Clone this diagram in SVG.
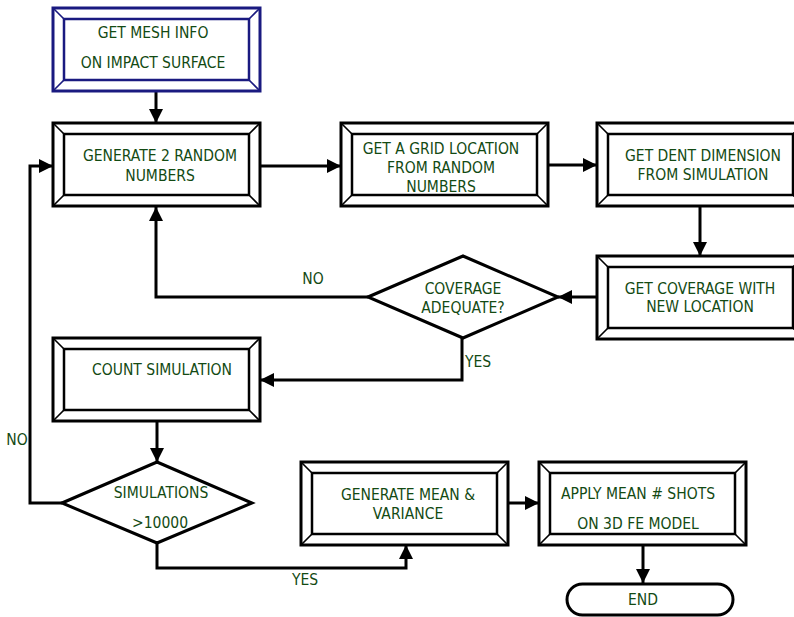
<svg xmlns="http://www.w3.org/2000/svg" xmlns:xlink="http://www.w3.org/1999/xlink" width="794" height="617" viewBox="0 0 794 617">
<style>
.o{fill:#fff;stroke:currentColor;stroke-width:3}
.i{fill:#fff;stroke:currentColor;stroke-width:2.5}
.b{fill:none;stroke:currentColor;stroke-width:1.6}
.t{font-family:"DejaVu Sans Condensed","DejaVu Sans",sans-serif;font-size:15.5px;fill:#134a13;text-anchor:middle;dominant-baseline:central}
.ts{text-anchor:start}
.c{fill:none;stroke:#000;stroke-width:3}
.d{fill:#fff;stroke:#000;stroke-width:3}
</style>
<defs>
<marker id="ah" markerUnits="userSpaceOnUse" markerWidth="16" markerHeight="16" viewBox="0 0 16 16" refX="15" refY="8" orient="auto">
<path d="M1,1 L15,8 L1,15 Z" fill="#000"/>
</marker>
<g id="bev">
<rect class="o" x="0" y="0" width="207" height="83"/>
<rect class="i" x="11" y="11" width="185" height="61"/>
<path class="b" d="M0,0 L11,11 M207,0 L196,11 M0,83 L11,72 M207,83 L196,72"/>
</g>
</defs>
<rect width="794" height="617" fill="#fff"/>
<g id="connectors">
<path class="c" d="M156,91 V123" marker-end="url(#ah)"/>
<path class="c" d="M260,166 H341" marker-end="url(#ah)"/>
<path class="c" d="M548,165 H597" marker-end="url(#ah)"/>
<path class="c" d="M700,207 V256" marker-end="url(#ah)"/>
<path class="c" d="M597,297 H558" marker-end="url(#ah)"/>
<path class="c" d="M368,297 H156 V207" marker-end="url(#ah)"/>
<path class="c" d="M462,338 V380 H260" marker-end="url(#ah)"/>
<path class="c" d="M157,421 V462" marker-end="url(#ah)"/>
<path class="c" d="M62,503 H30 V166 H53" marker-end="url(#ah)"/>
<path class="c" d="M157,543 V568 H406 V545" marker-end="url(#ah)"/>
<path class="c" d="M508,503 H539" marker-end="url(#ah)"/>
<path class="c" d="M643,544 V583" marker-end="url(#ah)"/>
</g>
<g id="mesh-info">
<use xlink:href="#bev" x="53" y="8" color="#1a1a80"/>
<text class="t" x="153" y="33">GET MESH INFO</text>
<text class="t" x="153" y="63">ON IMPACT SURFACE</text>
</g>
<g id="random-numbers">
<use xlink:href="#bev" x="53" y="123" color="#000"/>
<text class="t" x="160" y="156">GENERATE 2 RANDOM</text>
<text class="t" x="160" y="176">NUMBERS</text>
</g>
<g id="grid-location">
<use xlink:href="#bev" x="341" y="123" color="#000"/>
<text class="t" x="441" y="149">GET A GRID LOCATION</text>
<text class="t" x="441" y="168">FROM RANDOM</text>
<text class="t" x="441" y="187">NUMBERS</text>
</g>
<g id="dent-dimension">
<use xlink:href="#bev" x="597" y="123" color="#000"/>
<text class="t" x="703" y="156">GET DENT DIMENSION</text>
<text class="t" x="703" y="175">FROM SIMULATION</text>
</g>
<g id="coverage">
<use xlink:href="#bev" x="597" y="256" color="#000"/>
<text class="t" x="700" y="289">GET COVERAGE WITH</text>
<text class="t" x="700" y="307">NEW LOCATION</text>
</g>
<g id="coverage-adequate">
<path class="d" d="M368,297 L463,256 L558,297 L463,338 Z"/>
<text class="t" x="463" y="289">COVERAGE</text>
<text class="t" x="463" y="308">ADEQUATE?</text>
<text class="t" x="313" y="279">NO</text>
<text class="t ts" x="465" y="362">YES</text>
</g>
<g id="count-simulation">
<use xlink:href="#bev" x="53" y="338" color="#000"/>
<text class="t" x="162" y="370">COUNT SIMULATION</text>
</g>
<g id="simulations-check">
<path class="d" d="M62,503 L157,462 L252,503 L157,543 Z"/>
<text class="t" x="161" y="493">SIMULATIONS</text>
<text class="t" x="160" y="523">&gt;10000</text>
<text class="t" x="17" y="440">NO</text>
<text class="t" x="305" y="580">YES</text>
</g>
<g id="mean-variance">
<use xlink:href="#bev" x="301" y="462" color="#000"/>
<text class="t" x="408" y="495">GENERATE MEAN &amp;</text>
<text class="t" x="408" y="514">VARIANCE</text>
</g>
<g id="apply-mean">
<use xlink:href="#bev" x="539" y="462" color="#000"/>
<text class="t" x="638" y="494">APPLY MEAN # SHOTS</text>
<text class="t" x="638" y="524">ON 3D FE MODEL</text>
</g>
<g id="end">
<rect x="567" y="584" width="166" height="31" rx="15.5" fill="#fff" stroke="#000" stroke-width="3"/>
<text class="t" x="643" y="600">END</text>
</g>
</svg>
